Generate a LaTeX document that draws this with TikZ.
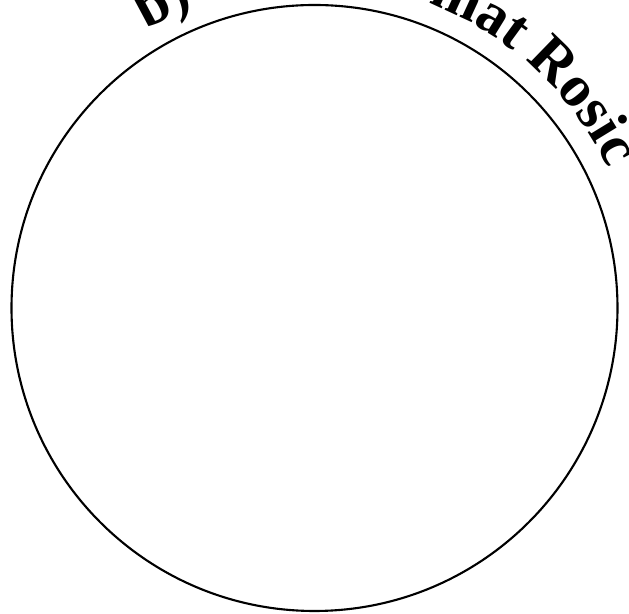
\documentclass[tikz,border=0pt]{standalone}
\usepackage{fontspec}
\setmainfont{Liberation Serif}
\usepackage{tikz}
\usetikzlibrary{
  decorations.text
}
\definecolor{rimcolor}{RGB}{0, 0, 0}
\definecolor{labelcolor}{RGB}{0, 0, 0}
\tikzset{
rim/.style={
  circle,
  draw=rimcolor,
  line width=1.2pt,
  minimum size=12.12cm,
  inner sep=0pt
},
arctext/.style={
  decorate,
  decoration={
    text along path,
    text color=labelcolor,
    text={|\bfseries\fontsize{33.5}{36}\selectfont|#1}
  }
}
}

\begin{document}
\begin{tikzpicture}
    % Frame of the picture (the label runs off the top edge)
    \useasboundingbox (-6.29,-6.12) rectangle (6.29,6.16);
    \clip (-6.29,-6.12) rectangle (6.29,6.16);

    % Circle
    \node[rim] (wheel) at (0,0) {};

    % Label bent round the top of the circle
    \path[arctext={b)}] (wheel.center) ++(121:6.5) arc (121:100:6.5);
    \path[arctext={mat Rosic}] (wheel.center) ++(69.5:6.5) arc (69.5:10:6.5);
  \end{tikzpicture}
\end{document}
